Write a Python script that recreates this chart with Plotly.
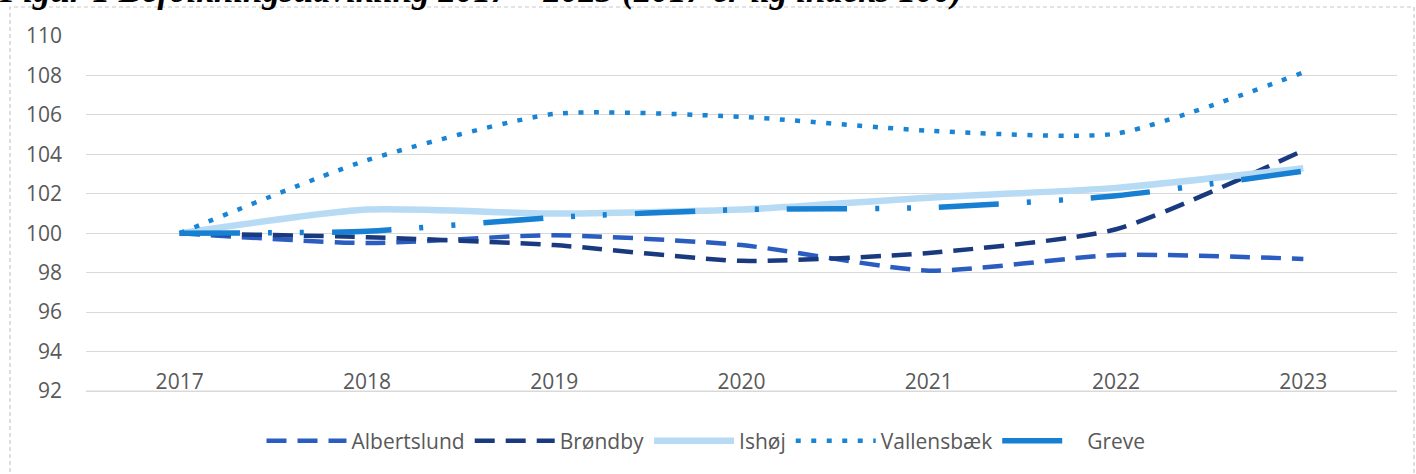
import plotly.graph_objects as go

years = ["2017", "2018", "2019", "2020", "2021", "2022", "2023"]
albertslund = [100.0, 99.5, 99.9, 99.4, 98.1, 98.9, 98.7]
brondby = [100.0, 99.8, 99.4, 98.6, 99.0, 100.2, 104.2]
ishoj = [100.0, 101.2, 101.0, 101.2, 101.8, 102.3, 103.3]
vallensbaek = [100.0, 103.7, 106.05, 105.9, 105.2, 105.05, 108.15]
greve = [100.0, 100.1, 100.8, 101.2, 101.3, 101.9, 103.15]
y_ticks = [92, 94, 96, 98, 100, 102, 104, 106, 108, 110]

title_text = "Figur 1 Befolkningsudvikling 2017 – 2023 (2017 er lig indeks 100)"

series = [
    ("Albertslund", albertslund, "#2b5cc0", 4.5, "20px,11px"),
    ("Brøndby", brondby, "#1a3a80", 4.5, "20px,11px"),
    ("Ishøj", ishoj, "#b8dbf5", 6.5, "solid"),
    ("Vallensbæk", vallensbaek, "#1a84d4", 4.5, "5px,10.5px"),
    ("Greve", greve, "#1780d2", 5.5, "60px,28px,4px,28px,4px,28px"),
]

fig = go.Figure()
for name, vals, color, width, dash in series:
    fig.add_trace(go.Scatter(
        x=years, y=vals, name=name, mode="lines",
        line=dict(color=color, width=width, dash=dash, shape="spline", smoothing=0.6),
    ))

font_family = "Open Sans, sans-serif"
fs = 21

T, B = 36, 81
H = 474 - T - B


def py(pix):
    return (474 - B - pix) / H


def px(pix):
    return (pix - 86) / (1416 - 86 - 19)


fig.update_layout(
    width=1416, height=474,
    margin=dict(l=86, r=19, t=T, b=B, autoexpand=False),
    paper_bgcolor="white", plot_bgcolor="white",
    showlegend=True,
    legend=dict(
        orientation="h", x=px(706), xanchor="center", y=py(441), yanchor="middle",
        font=dict(family=font_family, size=fs, color="#595959"),
        itemwidth=80, tracegroupgap=0,
    ),
    font=dict(family=font_family, size=fs, color="#595959"),
    annotations=[dict(
        text="<b><i>" + title_text + "</i></b>",
        xref="paper", yref="paper",
        x=px(-3), xanchor="left",
        y=py(12), yanchor="bottom",
        showarrow=False,
        font=dict(family="Liberation Serif, DejaVu Serif, serif", size=35, color="black"),
    )],
    shapes=[
        dict(
            type="rect", xref="paper", yref="paper",
            x0=px(10), x1=px(1414),
            y0=py(490), y1=py(7),
            line=dict(color="#c8c8c8", width=1.2, dash="4px,3px"),
            fillcolor="rgba(0,0,0,0)", layer="below",
        ),
        dict(
            type="line", xref="paper", yref="y",
            x0=0, x1=1, y0=y_ticks[0], y1=y_ticks[0],
            line=dict(color="#d9d9d9", width=1.3), layer="below",
        ),
    ],
)

fig.update_xaxes(
    type="category", range=[-0.5, 6.5], automargin=False,
    anchor="free", position=py(367),
    showgrid=False, showline=False, zeroline=False,
    ticks="",
    tickfont=dict(family=font_family, size=fs, color="#595959"),
)
fig.update_yaxes(
    range=[91.9, 110], tickvals=y_ticks,
    automargin=False,
    showgrid=True, gridcolor="#d9d9d9", gridwidth=1.3,
    zeroline=False, showline=False, ticks="",
    tickfont=dict(family=font_family, size=fs, color="#595959"),
    ticklabelstandoff=23,
)

fig.write_html("out.html", config={"displayModeBar": False},
               post_script="document.body.style.margin='0px';")
